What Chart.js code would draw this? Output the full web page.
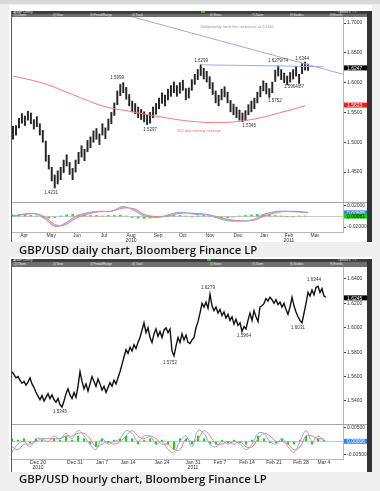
<!DOCTYPE html>
<html>
<head>
<meta charset="utf-8">
<script src="https://cdn.jsdelivr.net/npm/chart.js@4.4.1/dist/chart.umd.min.js"></script>
<style>
	body { margin: 0; width: 380px; height: 491px; background: #efefef; position: relative; overflow: hidden; }
	.top { position: absolute; left: 0; top: 0; width: 380px; height: 4px; background: #d8d8d8; }
	.card { position: absolute; left: 9px; width: 363px; background: #fff; }
	.tb1 { position: absolute; left: 11px; width: 361px; height: 3px; background: #3e3e3e; }
	.tb2 { position: absolute; left: 11px; width: 356px; height: 3px; background: #707070; }
	.menu { position: absolute; font: 3px "Liberation Sans"; color: #e8e8e8; white-space: nowrap; line-height: 3px; }
	.green { position: absolute; width: 4px; height: 2px; background: #2fbf2f; }
	.side { position: absolute; left: 367px; width: 5px; background: #333; }
	.lbar { position: absolute; left: 11px; width: 1px; background: #5a5a5a; }
	.sep { position: absolute; left: 12px; width: 355px; height: 1px; background: #a8a8a8; }
	.caption { position: absolute; left: 19px; font-family: "Open Sans"; font-weight: 600; font-size: 11.35px; color: #151515; white-space: nowrap; }
	canvas { position: absolute; left: 11px; }
</style>
</head>
<body>
<div class="top"></div>

<div class="card" style="top:5px;height:237px"></div>
<div class="tb1" style="top:11px"></div>
<div class="tb2" style="top:14px"></div>
<div class="menu" style="left:13px;top:11px">&#9664; GBP Curncy</div>
<div class="menu" style="left:14px;top:14px">1) Charts</div>
<div class="menu" style="left:53px;top:14px">2) View</div>
<div class="menu" style="left:90px;top:14px">3) Period/Range</div>
<div class="menu" style="left:132px;top:14px">4) Track</div>
<div class="green" style="left:201px;top:11px"></div>
<div class="menu" style="left:210px;top:14px">6) Notes</div>
<div class="menu" style="left:252px;top:14px">7) Zoom</div>
<div class="menu" style="left:290px;top:14px">8) Studies</div>
<div class="menu" style="left:330px;top:14px">9) Events</div>
<div class="menu" style="left:338px;top:11px">Options &#9662; ? &#215;</div>
<div class="side" style="top:11px;height:231px"></div>
<div class="lbar" style="top:11px;height:231px"></div>
<canvas id="dailyPrice" width="356" height="186" style="top:17px"></canvas>
<div class="sep" style="top:202px"></div>
<canvas id="dailyInd" width="356" height="39" style="top:203px"></canvas>
<div class="caption" style="top:242px">GBP/USD daily chart, Bloomberg Finance LP</div>

<div class="card" style="top:257px;height:215px"></div>
<div class="tb1" style="top:259px"></div>
<div class="tb2" style="top:262px;height:5px"></div>
<div class="menu" style="left:13px;top:259px">&#9664; GBP Curncy</div>
<div class="menu" style="left:14px;top:263px">1) Charts</div>
<div class="menu" style="left:53px;top:263px">2) View</div>
<div class="menu" style="left:90px;top:263px">3) Period/Range</div>
<div class="menu" style="left:132px;top:263px">4) Track</div>
<div class="green" style="left:207px;top:259px"></div>
<div class="menu" style="left:210px;top:263px">6) Notes</div>
<div class="menu" style="left:252px;top:263px">7) Zoom</div>
<div class="menu" style="left:290px;top:263px">8) Studies</div>
<div class="menu" style="left:330px;top:263px">9) Events</div>
<div class="menu" style="left:338px;top:259px">Options &#9662; ? &#215;</div>
<div class="side" style="top:259px;height:213px"></div>
<div class="lbar" style="top:259px;height:213px"></div>
<canvas id="hourlyPrice" width="356" height="158" style="top:267px"></canvas>
<div class="sep" style="top:424px"></div>
<canvas id="hourlyInd" width="356" height="47" style="top:425px"></canvas>
<div class="caption" style="top:471px">GBP/USD hourly chart, Bloomberg Finance LP</div>

<script>
// ---- daily chart ----
const dailyLow = [1.505,1.512,1.524,1.532,1.528,1.537,1.531,1.522,1.526,1.512,
	1.500,1.468,1.455,1.435,1.4231,1.430,1.437,1.449,1.460,1.446,
	1.437,1.450,1.464,1.475,1.469,1.484,1.491,1.500,1.505,1.496,
	1.512,1.506,1.520,1.531,1.545,1.563,1.578,1.583,1.572,1.561,
	1.551,1.548,1.541,1.538,1.534,1.5297,1.532,1.541,1.547,1.556,
	1.565,1.561,1.571,1.577,1.583,1.577,1.582,1.587,1.571,1.574,
	1.587,1.597,1.605,1.612,1.606,1.601,1.590,1.580,1.566,1.561,
	1.571,1.576,1.566,1.551,1.546,1.541,1.537,1.5345,1.537,1.546,
	1.551,1.556,1.566,1.576,1.586,1.581,1.5752,1.583,1.602,1.611,
	1.605,1.600,1.5964,1.601,1.606,1.611,1.5987,1.615,1.621,1.6205]
const dailyHigh = [1.527,1.528,1.540,1.548,1.544,1.552,1.549,1.538,1.543,1.531,
	1.520,1.502,1.478,1.458,1.445,1.452,1.458,1.470,1.479,1.466,
	1.456,1.470,1.483,1.494,1.488,1.503,1.509,1.519,1.523,1.514,
	1.531,1.524,1.539,1.550,1.566,1.586,1.597,1.5999,1.592,1.580,
	1.569,1.565,1.559,1.555,1.551,1.545,1.550,1.559,1.565,1.574,
	1.583,1.579,1.589,1.595,1.601,1.595,1.600,1.604,1.590,1.591,
	1.605,1.614,1.622,1.6299,1.624,1.619,1.610,1.600,1.586,1.579,
	1.589,1.593,1.584,1.570,1.564,1.559,1.554,1.549,1.553,1.563,
	1.569,1.574,1.584,1.594,1.603,1.599,1.590,1.601,1.621,1.6279,
	1.622,1.616,1.611,1.617,1.622,1.6274,1.614,1.632,1.6344,1.631]
const ma200At = [0,10,20,30,40,50,60,70,80,90,98]
const ma200 = [1.611,1.599,1.580,1.561,1.551,1.542,1.535,1.533,1.538,1.550,1.561]
const trendAt = [30,110.8]
const trend = [1.724,1.614]
const resistAt = [63,104]
const resist = [1.6299,1.6268]
const dailyTicks = [1.45,1.5,1.55,1.6,1.65,1.7]
const dailyMonthAt = [3.7,12.8,21.5,30.5,39.6,48.7,57,66.1,75.5,84.2,92.6,101.3]
const dailyMonths = ['Apr','May','Jun','Jul',['Aug','2010'],'Sep','Oct','Nov','Dec','Jan',['Feb','2011'],'Mar']
const dailyNoteText = ['1.5999','1.6299','1.6279/74','1.6344','1.5964/87','1.5752','1.5345','1.5297','1.4231']
const dailyNoteAt = [34.9,63.1,88.9,97.0,94.3,87.9,79.2,46.0,12.8]
const dailyNoteY = [1.6077,1.6362,1.6362,1.6396,1.5926,1.5691,1.5272,1.5205,1.4148]

const macdAt = [0,4,8,11,14,17,21,24,29,33,37,41,44,48,52,56,61,66,71,76,81,84,89,94,99]
const dailyMacd = [0.000,0.005,0.004,-0.006,-0.019,-0.014,0.000,0.006,0.010,0.010,0.019,0.010,0.001,-0.002,0.003,0.008,0.004,0.002,-0.007,-0.009,-0.005,0.004,0.010,0.009,0.007]
const dailySignal = [0.001,0.004,0.005,-0.002,-0.015,-0.017,-0.004,0.003,0.009,0.010,0.016,0.014,0.004,0.000,0.001,0.006,0.006,0.003,-0.004,-0.008,-0.007,0.000,0.008,0.010,0.008]
const dailyHist = [0.003,0.004,0.003,0.002,0.001,-0.002,-0.003,-0.002,0.001,0.003,
	0.004,0.003,0.003,0.002,0.002,0.001,0.002,0.002,0.003,0.001,
	-0.002,-0.003,-0.004,-0.003,-0.002,-0.001,0.001,0.002,0.002,0.001,
	-0.001,0.001,0.002,0.001,-0.002,-0.003,-0.002,-0.001,0.001,0.002,
	0.003,0.004,0.004,0.003,0.002,0.001,0.000,-0.001,0.001,0.001]

// ---- hourly chart ----
const hourly = [1.5640,1.5615,1.5590,1.5600,1.5570,1.5545,1.5560,1.5530,1.5555,1.5590,
	1.5540,1.5510,1.5470,1.5440,1.5410,1.5445,1.5400,1.5430,1.5460,1.5420,
	1.5450,1.5410,1.5390,1.5420,1.5370,1.5350,1.5400,1.5460,1.5500,1.5450,
	1.5420,1.5470,1.5430,1.5520,1.5640,1.5560,1.5500,1.5540,1.5480,1.5540,
	1.5600,1.5560,1.5520,1.5580,1.5540,1.5490,1.5520,1.5470,1.5510,1.5550,
	1.5520,1.5570,1.5540,1.5590,1.5640,1.5700,1.5760,1.5820,1.5790,1.5840,
	1.5810,1.5860,1.5830,1.5880,1.5920,1.5980,1.6040,1.5960,1.6000,1.5920,
	1.5880,1.5950,1.5990,1.5930,1.5970,1.5920,1.5980,1.6000,1.5960,1.5990,
	1.5810,1.5770,1.5850,1.5920,1.5880,1.5950,1.5900,1.5940,1.5880,1.5870,
	1.5900,1.5920,1.6000,1.6050,1.6120,1.6200,1.6170,1.6210,1.6160,1.6275,
	1.6180,1.6140,1.6170,1.6120,1.6150,1.6100,1.6130,1.6080,1.6110,1.6060,
	1.6090,1.6030,1.6070,1.6020,1.6040,1.5970,1.6010,1.5990,1.6060,1.6120,
	1.6060,1.6140,1.6090,1.6050,1.6170,1.6180,1.6200,1.6240,1.6220,1.6250,
	1.6230,1.6200,1.6230,1.6190,1.6210,1.6170,1.6200,1.6150,1.6110,1.6170,
	1.6250,1.6180,1.6130,1.6090,1.6060,1.6040,1.6120,1.6200,1.6290,1.6260,
	1.6310,1.6270,1.6330,1.6340,1.6290,1.6320,1.6260,1.6250]
const hourlyTicks = [1.54,1.56,1.58,1.6,1.62,1.64]
const hourlyDayAt = [13,31.5,45,58,75,90.5,104,117.5,131,144.5,156]
const hourlyDays = [['Dec 20','2010'],'Dec 31','Jan 7','Jan 14','Jan 24',['Jan 31','2011'],'Feb 7','Feb 14','Feb 21','Feb 28','Mar 4']
const hourlyNoteText = ['1.6279','1.6344','1.5964','1.6031','1.5752','1.5345']
const hourlyNoteAt = [98,151,116,143,79,24]
const hourlyNoteY = [1.6326,1.6392,1.5933,1.5998,1.5711,1.5310]

const hMacdAt = [0,3,6,9,12,15,18,21,24,27,30,33,36,39,42,45,48,51,54,57,60,63,66,69,72,75,78,81,84,87,90,93,96,99,102,105,108,111,114,117,120,123,126,129,132,135,138,141,144,147,150,153,156]
const hourlyMacd = [-0.004,-0.001,0.000,-0.002,0.001,0.001,0.000,0.002,0.001,0.003,
	0.001,0.004,0.002,-0.001,-0.003,0.001,-0.001,0.000,0.001,0.004,
	0.003,0.000,0.002,0.002,-0.001,0.000,-0.003,-0.004,0.000,0.002,
	-0.002,0.004,0.003,-0.001,-0.002,0.000,-0.001,0.000,-0.001,-0.003,
	-0.001,0.003,0.003,0.000,-0.001,0.001,-0.002,-0.004,0.000,0.004,
	0.000,0.002,0.000]
const hourlySignal = [-0.002,-0.003,-0.001,-0.001,0.000,0.001,0.001,0.001,0.001,0.002,
	0.002,0.003,0.003,0.001,-0.002,-0.001,0.000,-0.001,0.000,0.002,
	0.004,0.002,0.001,0.002,0.001,-0.001,-0.001,-0.003,-0.003,0.001,
	0.000,0.001,0.004,0.002,-0.001,-0.001,0.000,-0.001,0.000,-0.002,
	-0.002,0.001,0.003,0.002,0.000,0.000,-0.001,-0.003,-0.002,0.002,
	0.002,0.001,0.001]
const hourlyHist = [0.001,0.0005,0.001,-0.0005,0.001,0.0005,0,0.001,0.0005,0.002,
	0.0005,0.002,0.001,-0.001,-0.002,0.001,-0.0005,0.0005,0.001,0.002,
	0.001,-0.001,0.0005,0.001,-0.001,0.0005,-0.001,-0.003,0.001,0.001,
	-0.001,0.002,0.001,-0.001,-0.001,0.0005,-0.0005,0.0005,-0.0005,-0.001,
	0.0005,0.002,0.001,-0.0005,-0.0005,0.001,-0.001,-0.001,0.0005,0.002,
	-0.001,0.001,0.0005]

const tickFont = { family: 'Liberation Sans', size: 5 }

// text notes and coloured value boxes on the right axis
function markup(notes, boxes){
	return {
		id: 'markup',
		afterDatasetsDraw(chart){
			const ctx = chart.ctx
			const x = chart.scales.x, y = chart.scales.y
			ctx.save()
			ctx.textAlign = 'center'
			ctx.textBaseline = 'middle'
			notes.forEach(n => {
				ctx.font = n.size + 'px "Liberation Sans"'
				ctx.fillStyle = n.color
				ctx.fillText(n.text, x.getPixelForValue(n.x), y.getPixelForValue(n.y))
			})
			ctx.font = '5px "Liberation Sans"'
			ctx.textAlign = 'left'
			boxes.forEach(b => {
				const py = y.getPixelForValue(b.value)
				ctx.fillStyle = b.bg
				ctx.fillRect(chart.chartArea.right + 1, py - 2.5, 24, 5)
				ctx.fillStyle = b.fg
				ctx.fillText(b.text, chart.chartArea.right + 4, py + 0.3)
			})
			ctx.restore()
		}
	}
}

function rightAxis(min, max, ticks, digits, zeroLine){
	return {
		position: 'right', min: min, max: max,
		afterBuildTicks: a => { a.ticks = ticks.map(v => ({value: v})) },
		afterFit: a => { a.width = 24; a.paddingTop = 0; a.paddingBottom = 0 },
		grid: {
			drawOnChartArea: !!zeroLine, tickLength: 3, tickColor: '#444',
			color: c => (zeroLine && c.tick && c.tick.value === 0) ? '#c8c8c8' : 'rgba(0,0,0,0)'
		},
		border: { color: '#b8b8b8' },
		ticks: { font: tickFont, color: '#333', padding: 1, callback: v => v === 0 ? '' : v.toFixed(digits) }
	}
}

function bottomAxis(min, max, at, labels, height){
	return {
		type: 'linear', min: min, max: max, offset: false,
		afterBuildTicks: a => { a.ticks = at.map(v => ({value: v})) },
		afterFit: a => { a.height = height; a.paddingLeft = 0; a.paddingRight = 0 },
		grid: { drawOnChartArea: false, offset: false, tickLength: 1, tickColor: '#888' },
		border: { color: '#b8b8b8' },
		ticks: { font: { family: 'Liberation Sans', size: 5, lineHeight: 1 }, color: '#333', padding: 0, autoSkip: false, maxRotation: 0,
			callback: (v, i) => labels[i] }
	}
}

const base = {
	animation: false, responsive: false, maintainAspectRatio: false,
	layout: { padding: { left: 1, top: 0, right: 0, bottom: 0 } },
	plugins: { legend: { display: false }, tooltip: { enabled: false } }
}

// daily price
const dailyNotes = dailyNoteText.map((t, i) => ({ text: t, x: dailyNoteAt[i], y: dailyNoteY[i], size: 4.5, color: '#333' }))
dailyNotes.push({ text: '200 day moving average', x: 62.4, y: 1.5188, size: 4, color: '#f07070' })
dailyNotes.push({ text: 'Daily/weekly trend line resistance at 1.6162', x: 75.2, y: 1.6933, size: 3.8, color: '#8c8cd6' })

new Chart(document.getElementById('dailyPrice'), {
	type: 'bar',
	data: {
		datasets: [
			{ type: 'line', data: ma200At.map((v, i) => ({x: v, y: ma200[i]})), borderColor: '#f47a7a', borderWidth: 1, pointRadius: 0, tension: 0.4, order: 1 },
			{ type: 'line', data: trendAt.map((v, i) => ({x: v, y: trend[i]})), borderColor: '#a6a6e6', borderWidth: 1, pointRadius: 0, order: 1 },
			{ type: 'line', data: resistAt.map((v, i) => ({x: v, y: resist[i]})), borderColor: '#a6a6e6', borderWidth: 1, pointRadius: 0, order: 1 },
			{ type: 'bar', data: dailyLow.map((v, i) => ({x: i, y: [v, dailyHigh[i]]})), backgroundColor: '#262626', barThickness: 1.3, order: 2 }
		]
	},
	options: Object.assign({}, base, {
		scales: {
			x: { type: 'linear', display: false, offset: false, min: -0.34, max: 110.74 },
			y: rightAxis(1.398, 1.7101, dailyTicks, 4, false)
		}
	}),
	plugins: [markup(dailyNotes, [
		{ text: '1.6247', value: 1.6247, bg: '#000', fg: '#fff' },
		{ text: '1.5623', value: 1.5623, bg: '#ee1c1c', fg: '#fff' }
	])]
})

// daily indicator
new Chart(document.getElementById('dailyInd'), {
	type: 'bar',
	data: {
		datasets: [
			{ type: 'line', data: macdAt.map((v, i) => ({x: v, y: dailyMacd[i]})), borderColor: '#86a6f0', borderWidth: 1, pointRadius: 0, tension: 0.4, order: 1 },
			{ type: 'line', data: macdAt.map((v, i) => ({x: v, y: dailySignal[i]})), borderColor: '#f07d7d', borderWidth: 1, pointRadius: 0, tension: 0.4, order: 1,
				fill: { target: 0, above: 'rgba(240,120,120,0.55)', below: 'rgba(240,120,120,0.55)' } },
			{ type: 'bar', data: dailyHist.map((v, i) => ({x: i * 2, y: v})), backgroundColor: '#3cd43c', barThickness: 2, order: 2 }
		]
	},
	options: Object.assign({}, base, {
		scales: {
			x: bottomAxis(-0.34, 110.74, dailyMonthAt, dailyMonths, 10),
			y: rightAxis(-0.0295, 0.0257, [-0.02, 0, 0.02], 5, true)
		}
	}),
	plugins: [markup([], [
		{ text: '0.00695', value: 0.00695, bg: '#3b82e6', fg: '#fff' },
		{ text: '0.00061', value: 0.00061, bg: '#16d016', fg: '#000' }
	])]
})

// hourly price
const hourlyNotes = hourlyNoteText.map((t, i) => ({ text: t, x: hourlyNoteAt[i], y: hourlyNoteY[i], size: 4.5, color: '#333' }))

new Chart(document.getElementById('hourlyPrice'), {
	type: 'line',
	data: {
		datasets: [
			{ data: hourly.map((v, i) => ({x: i, y: v})), borderColor: '#111', borderWidth: 1.4, pointRadius: 0, tension: 0 }
		]
	},
	options: Object.assign({}, base, {
		scales: {
			x: { type: 'linear', display: false, offset: false, min: 0, max: 165.5 },
			y: rightAxis(1.5203, 1.6498, hourlyTicks, 4, false)
		}
	}),
	plugins: [markup(hourlyNotes, [
		{ text: '1.6245', value: 1.6245, bg: '#000', fg: '#fff' }
	])]
})

// hourly indicator
new Chart(document.getElementById('hourlyInd'), {
	type: 'bar',
	data: {
		datasets: [
			{ type: 'line', data: hMacdAt.map((v, i) => ({x: v, y: hourlyMacd[i]})), borderColor: '#86a6f0', borderWidth: 1, pointRadius: 0, tension: 0.4, order: 1 },
			{ type: 'line', data: hMacdAt.map((v, i) => ({x: v, y: hourlySignal[i]})), borderColor: '#f07d7d', borderWidth: 1, pointRadius: 0, tension: 0.4, order: 1 },
			{ type: 'bar', data: hMacdAt.map((v, i) => ({x: v, y: hourlyHist[i]})), backgroundColor: '#22cc22', barThickness: 1.5, order: 2 }
		]
	},
	options: Object.assign({}, base, {
		scales: {
			x: bottomAxis(0, 165.5, hourlyDayAt, hourlyDays, 13),
			y: rightAxis(-0.0065, 0.0061, [-0.005, 0, 0.005], 5, true)
		}
	}),
	plugins: [markup([], [
		{ text: '0.00006', value: 0.00006, bg: '#3b82e6', fg: '#fff' }
	])]
})
</script>
</body>
</html>
